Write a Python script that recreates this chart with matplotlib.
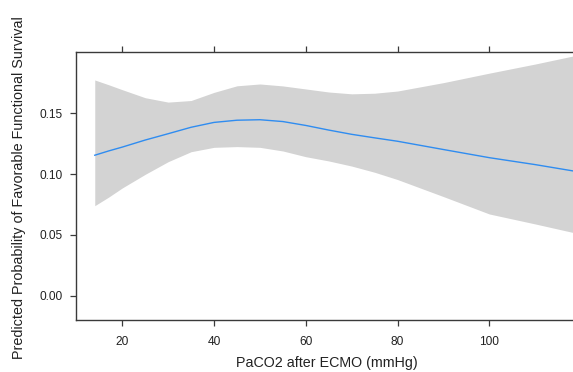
import matplotlib
matplotlib.use("Agg")
import matplotlib.pyplot as plt

# Data
paco2 = [14, 17, 20, 25, 30, 35, 40, 45, 50, 55, 60, 65, 70, 75, 80, 90, 100, 110, 120]
fit = [0.1155, 0.1190, 0.1222, 0.1280, 0.1332, 0.1385, 0.1425, 0.1443, 0.1447, 0.1432,
       0.1400, 0.1362, 0.1327, 0.1298, 0.1270, 0.1202, 0.1135, 0.1078, 0.1015]
upper = [0.1774, 0.1735, 0.1694, 0.1628, 0.1592, 0.1605, 0.1672, 0.1726, 0.1741, 0.1725,
         0.1700, 0.1675, 0.1660, 0.1665, 0.1683, 0.1752, 0.1830, 0.1905, 0.1985]
lower = [0.0740, 0.0810, 0.0886, 0.0998, 0.1102, 0.1184, 0.1220, 0.1226, 0.1220, 0.1190,
         0.1143, 0.1108, 0.1066, 0.1015, 0.0955, 0.0815, 0.0672, 0.0590, 0.0505]

xticks = [20, 40, 60, 80, 100]
yticks = [0.00, 0.05, 0.10, 0.15]
ytick_labels = ["0.00", "0.05", "0.10", "0.15"]

plt.rcParams['font.family'] = ['Liberation Sans', 'DejaVu Sans']

W, H = 573, 372
fig = plt.figure(figsize=(W / 100, H / 100), dpi=100)
ax = fig.add_axes([76 / W, 1 - 320 / H, 1 - 76 / W, (320 - 52) / H])

ax.fill_between(paco2, lower, upper, color='#d3d3d3', linewidth=0)
ax.plot(paco2, fit, color='#2f8cf0', linewidth=1.0)

ax.set_xlim(9.91, 118.25)
ax.set_ylim(-0.0200, 0.2004)

ax.set_xticks(xticks)
ax.set_xticklabels([str(t) for t in xticks])
ax.set_yticks(yticks)
ax.set_yticklabels(ytick_labels)

spine_col = '#3a3a3a'
for s in ['left', 'bottom', 'top']:
    ax.spines[s].set_color(spine_col)
    ax.spines[s].set_linewidth(1.0)
ax.spines['right'].set_visible(False)

ax.tick_params(axis='both', direction='out', length=4.5, width=0.9, color=spine_col,
               labelsize=8.6, labelcolor='#222222')
ax.tick_params(axis='y', pad=5)
ax.tick_params(axis='x', top=True, labeltop=False, pad=7)

fig.text(327 / W, 1 - 363 / H, 'PaCO2 after ECMO (mmHg)', ha='center', va='center',
         fontsize=10.3, color='#222222')
fig.text(19 / W, 1 - 188 / H, 'Predicted Probability of Favorable Functional Survival',
         ha='center', va='center', rotation=90, fontsize=10.4, color='#222222')

fig.savefig('out.png', dpi=100)
